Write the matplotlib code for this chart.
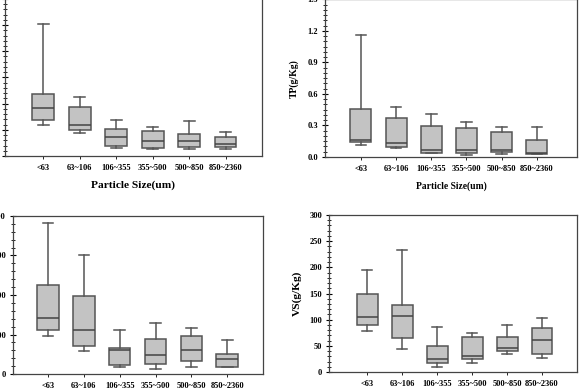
import matplotlib.pyplot as plt
from matplotlib.ticker import MultipleLocator, FormatStrFormatter

plt.rcParams['font.family'] = ['Liberation Serif', 'DejaVu Serif']
plt.rcParams['font.weight'] = 'bold'
plt.rcParams['axes.labelweight'] = 'bold'

sizes = ["<63", "63~106", "106~355", "355~500", "500~850", "850~2360"]

# top-left panel (axis labels cropped off in the original)
tl_low = [1.20, 0.87, 0.31, 0.27, 0.28, 0.26]
tl_q1 = [1.37, 1.01, 0.40, 0.31, 0.35, 0.33]
tl_med = [1.82, 1.17, 0.74, 0.56, 0.59, 0.46]
tl_q3 = [2.37, 1.88, 1.03, 0.94, 0.85, 0.71]
tl_high = [5.04, 2.24, 1.37, 1.12, 1.35, 0.90]

# TP (g/Kg)
tp_low = [0.114, 0.085, 0.038, 0.019, 0.028, 0.025]
tp_q1 = [0.140, 0.092, 0.038, 0.035, 0.047, 0.032]
tp_med = [0.160, 0.133, 0.063, 0.063, 0.063, 0.038]
tp_q3 = [0.455, 0.370, 0.294, 0.275, 0.240, 0.158]
tp_high = [1.162, 0.474, 0.414, 0.338, 0.284, 0.281]

# bottom-left panel
bl_low = [95, 58, 18, 13, 17, 18]
bl_q1 = [111, 72, 24, 25, 32, 19]
bl_med = [141, 111, 60, 47, 60, 37]
bl_q3 = [225, 198, 67, 89, 97, 51]
bl_high = [381, 302, 112, 128, 116, 86]

# VS (g/Kg)
vs_low = [78, 44, 9, 17, 35, 27]
vs_q1 = [89, 65, 17, 25, 40, 34]
vs_med = [105, 107, 24, 31, 45, 62]
vs_q3 = [149, 128, 49, 66, 66, 85]
vs_high = [194, 234, 86, 75, 89, 104]


def make_stats(low, q1, med, q3, high):
    return [dict(whislo=a, q1=b, med=c, q3=d, whishi=e, fliers=[])
            for a, b, c, d, e in zip(low, q1, med, q3, high)]


def draw_panel(ax, stats, ylim, major, minor, xlim, fmt=None, labelleft=True):
    ec = "#555555"
    ax.bxp(stats, positions=range(1, 7), widths=0.6, capwidths=0.3,
           patch_artist=True, showfliers=False,
           boxprops=dict(facecolor="#c3c3c3", edgecolor=ec, linewidth=1.1),
           medianprops=dict(color="#444444", linewidth=1.1),
           whiskerprops=dict(color=ec, linewidth=1.1),
           capprops=dict(color=ec, linewidth=1.1))
    ax.set_xlim(*xlim)
    ax.set_ylim(*ylim)
    ax.set_xticks(range(1, 7))
    ax.set_xticklabels(sizes, fontsize=6, fontweight='bold')
    ax.yaxis.set_major_locator(MultipleLocator(major))
    ax.yaxis.set_minor_locator(MultipleLocator(minor))
    if fmt:
        ax.yaxis.set_major_formatter(FormatStrFormatter(fmt))
    ax.tick_params(axis='y', which='major', direction='inout', length=4,
                   width=0.8, labelsize=6, pad=3, labelleft=labelleft)
    ax.tick_params(axis='y', which='minor', direction='inout', length=2.5, width=0.6)
    ax.tick_params(axis='x', direction='out', length=2, width=0.6, pad=4)
    for lab in ax.get_yticklabels():
        lab.set_fontweight('bold')
    for s in ax.spines.values():
        s.set_color("#444444")
        s.set_linewidth(0.9)


fig = plt.figure(figsize=(5.79, 3.92), dpi=100)

ax1 = fig.add_axes([0.0086, 0.602, 0.4439, 0.401])
draw_panel(ax1, make_stats(tl_low, tl_q1, tl_med, tl_q3, tl_high),
           (0, 6), 1, 0.2, (-0.05, 7.0), labelleft=False)
ax1.set_xlabel("Particle Size(um)", fontsize=8.2, fontweight='bold', labelpad=6)

ax2 = fig.add_axes([0.5613, 0.5995, 0.4352, 0.4018])
draw_panel(ax2, make_stats(tp_low, tp_q1, tp_med, tp_q3, tp_high),
           (0, 1.5), 0.3, 0.05, (-0.02, 7.14), fmt="%.1f")
ax2.set_xlabel("Particle Size(um)", fontsize=6.9, fontweight='bold', labelpad=6)
ax2.set_ylabel("TP(g/Kg)", fontsize=7, fontweight='bold', labelpad=6)

ax3 = fig.add_axes([0.0225, 0.0459, 0.4317, 0.4031])
draw_panel(ax3, make_stats(bl_low, bl_q1, bl_med, bl_q3, bl_high),
           (0, 400), 100, 20, (0.02, 7.0))

ax4 = fig.add_axes([0.5682, 0.051, 0.4283, 0.4005])
draw_panel(ax4, make_stats(vs_low, vs_q1, vs_med, vs_q3, vs_high),
           (0, 300), 50, 10, (-0.09, 7.0))
ax4.set_ylabel("VS(g/Kg)", fontsize=8.2, fontweight='bold', labelpad=5)

fig.savefig("out.png", dpi=100)
